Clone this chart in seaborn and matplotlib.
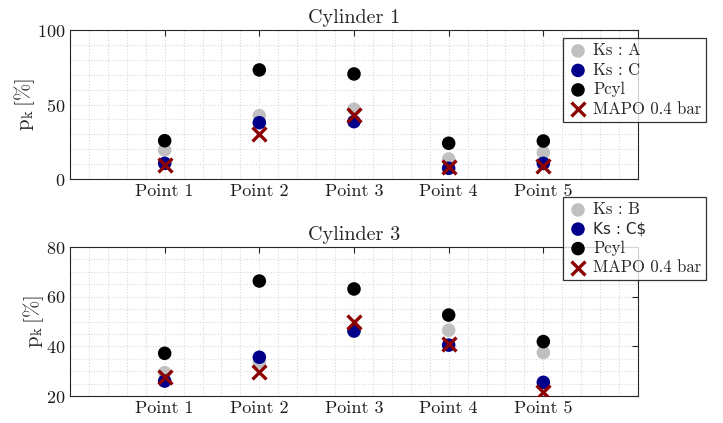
import numpy as np
import pandas as pd
import matplotlib
matplotlib.use("Agg")
import matplotlib.pyplot as plt
import seaborn as sns
from matplotlib.ticker import MultipleLocator, FixedLocator

sns.set_style("white")
plt.rcParams['font.family'] = ['cmr10', 'DejaVu Serif']
plt.rcParams['mathtext.fontset'] = 'cm'
plt.rcParams['axes.unicode_minus'] = False
plt.rcParams['axes.formatter.use_mathtext'] = True

points = ["Point 1", "Point 2", "Point 3", "Point 4", "Point 5"]

# Cylinder 1
cyl1_ks_a = [19.5, 42.5, 46.8, 13.4, 17.7]
cyl1_ks_c = [10.5, 37.8, 38.5, 7.2, 10.5]
cyl1_pcyl = [25.7, 73.2, 70.5, 24.0, 25.5]
cyl1_mapo = [9.4, 30.0, 43.0, 8.3, 8.9]

# Cylinder 3
cyl3_ks_b = [29.4, 33.7, 46.0, 46.5, 37.5]
cyl3_ks_c = [26.0, 35.6, 46.2, 40.5, 25.5]
cyl3_pcyl = [37.2, 66.3, 63.1, 52.6, 41.9]
cyl3_mapo = [27.8, 29.8, 49.9, 41.0, 21.7]

labels1 = ["Ks : A", "Ks : C", "Pcyl", "MAPO 0.4 bar"]
labels3 = ["Ks : B", "Ks : C\\$", "Pcyl", "MAPO 0.4 bar"]

gray = "#c0c0c0"
blue = "#00008b"
black = "#000000"
red = "#8b0000"

W, H = 723, 423
fig = plt.figure(figsize=(W / 100, H / 100), dpi=100)
ax1 = fig.add_axes([70 / W, 1 - 179 / H, 568 / W, 149 / H])
ax2 = fig.add_axes([70 / W, 1 - 396 / H, 568 / W, 149 / H])

xpos = np.arange(1, len(points) + 1)


def draw(ax, series, labels, title, ylim, ymajor, yminor, legend_top):
    cols = [gray, blue, black]
    for vals, lab, c in zip(series[:3], labels[:3], cols):
        sns.scatterplot(x=xpos, y=vals, ax=ax, color=c, marker="o", s=95,
                        edgecolor="none", label=lab, zorder=3)
    sns.scatterplot(x=xpos, y=series[3], ax=ax, color=red, marker="x", s=100,
                    linewidth=2.4, label=labels[3], zorder=4)
    ax.set_xlim(0, 6)
    ax.set_ylim(*ylim)
    ax.xaxis.set_major_locator(FixedLocator(xpos))
    ax.set_xticklabels(points)
    ax.xaxis.set_minor_locator(MultipleLocator(0.2))
    ax.yaxis.set_major_locator(MultipleLocator(ymajor))
    ax.yaxis.set_minor_locator(MultipleLocator(yminor))
    ax.grid(True, which="both", color="#d8d8d8", linestyle=":", linewidth=0.8)
    ax.set_axisbelow(True)
    ax.tick_params(which="major", direction="in", length=4, width=0.8,
                   top=True, right=True, labelsize=13, colors="#262626")
    ax.tick_params(axis="both", which="minor", length=0)
    ax.tick_params(axis="both", labelcolor="#1a1a1a")
    for sp in ax.spines.values():
        sp.set_visible(True)
        sp.set_color("#262626")
        sp.set_linewidth(0.8)
    ax.set_title(title, fontsize=14.5, pad=5)
    ax.set_ylabel(r"$\mathrm{p_k}\,[\%]$", fontsize=15, labelpad=0)
    ax.set_xlabel("")
    leg = ax.legend(loc="upper left", bbox_to_anchor=(563 / W, 1 - legend_top / H),
                    bbox_transform=fig.transFigure, borderaxespad=0,
                    fancybox=False, frameon=True, edgecolor="black",
                    fontsize=12, handletextpad=0.3, borderpad=0.3,
                    labelspacing=0.25, handlelength=1.2, markerscale=1.0)
    leg.get_frame().set_linewidth(0.9)
    leg.set_zorder(10)
    return leg


draw(ax1, [cyl1_ks_a, cyl1_ks_c, cyl1_pcyl, cyl1_mapo], labels1, "Cylinder 1",
     (0, 100), 50, 10, 38)
leg2 = draw(ax2, [cyl3_ks_b, cyl3_ks_c, cyl3_pcyl, cyl3_mapo], labels3, "Cylinder 3",
            (20, 80), 20, 5, 197)
leg2.get_texts()[1].set_fontfamily("DejaVu Sans")
leg2.get_texts()[1].set_fontsize(11)

fig.savefig("out.png", dpi=100)
